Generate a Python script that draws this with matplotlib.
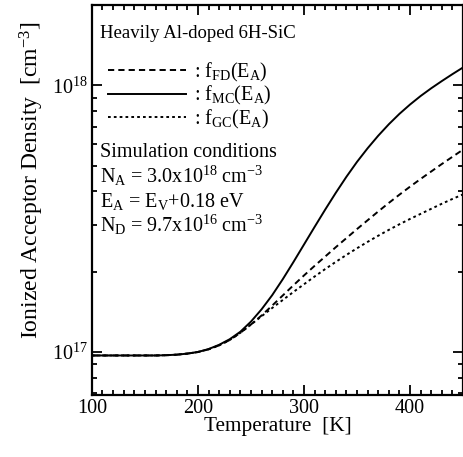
import numpy as np
import matplotlib
matplotlib.use("Agg")
import matplotlib.pyplot as plt
from matplotlib.ticker import MultipleLocator, LogLocator, NullFormatter

plt.rcParams['font.family'] = ['Liberation Serif', 'DejaVu Serif']
plt.rcParams['mathtext.fontset'] = 'custom'
plt.rcParams['mathtext.rm'] = 'Liberation Serif'
plt.rcParams['mathtext.it'] = 'Liberation Serif:italic'
plt.rcParams['mathtext.bf'] = 'Liberation Serif:bold'

# temperature grid [K]
temp = [100, 110, 120, 130, 140, 150, 160, 170, 180, 190, 200, 210, 220, 230,
        240, 250, 260, 270, 280, 290, 300, 310, 320, 330, 340, 350, 360, 370,
        380, 390, 400, 410, 420, 430, 440, 450]

# log10 of ionized acceptor density [cm^-3]
log_mc = [16.987, 16.987, 16.987, 16.987, 16.987, 16.987, 16.987, 16.988,
          16.990, 16.994, 17.000, 17.011, 17.027, 17.048, 17.076, 17.114,
          17.160, 17.213, 17.273, 17.337, 17.403, 17.469, 17.534, 17.597,
          17.657, 17.713, 17.764, 17.811, 17.854, 17.893, 17.928, 17.960,
          17.989, 18.016, 18.042, 18.067]
log_fd = [16.987, 16.987, 16.987, 16.987, 16.987, 16.987, 16.987, 16.988,
          16.990, 16.994, 17.000, 17.010, 17.025, 17.045, 17.072, 17.103,
          17.137, 17.174, 17.212, 17.250, 17.287, 17.323, 17.358, 17.393,
          17.427, 17.461, 17.494, 17.527, 17.559, 17.590, 17.620, 17.649,
          17.677, 17.705, 17.732, 17.759]
log_gc = [16.987, 16.987, 16.987, 16.987, 16.987, 16.987, 16.987, 16.988,
          16.990, 16.994, 17.000, 17.010, 17.025, 17.045, 17.072, 17.103,
          17.134, 17.165, 17.195, 17.225, 17.254, 17.283, 17.311, 17.338,
          17.364, 17.389, 17.413, 17.436, 17.458, 17.479, 17.499, 17.518,
          17.537, 17.556, 17.574, 17.591]

n_mc = 10 ** np.array(log_mc)
n_fd = 10 ** np.array(log_fd)
n_gc = 10 ** np.array(log_gc)

fs = 14.5
fig = plt.figure(figsize=(4.64, 4.57), dpi=100)
ax = fig.add_axes([0.198, 0.1357, 0.8, 0.8533])

lw = 1.4
ax.plot(temp, n_fd, color='black', lw=lw, linestyle=(0, (3.2, 2.1)),
        label=r': f$_{\mathrm{FD}}$(E$_{\mathrm{A}}$)')
ax.plot(temp, n_mc, color='black', lw=lw, linestyle='-',
        label=r': f$_{\mathrm{MC}}$(E$_{\mathrm{A}}$)')
ax.plot(temp, n_gc, color='black', lw=lw, linestyle=(0, (1.4, 1.6)),
        label=r': f$_{\mathrm{GC}}$(E$_{\mathrm{A}}$)')

ax.set_yscale('log')
ax.set_xlim(100, 450)
ax.set_ylim(6.9e16, 2.0e18)

ax.xaxis.set_major_locator(MultipleLocator(100))
ax.xaxis.set_minor_locator(MultipleLocator(10))
ax.yaxis.set_major_locator(LogLocator(base=10, numticks=10))
ax.yaxis.set_minor_locator(LogLocator(base=10, subs=np.arange(2, 10), numticks=10))
ax.yaxis.set_minor_formatter(NullFormatter())

ax.tick_params(which='both', direction='in', top=True, right=True,
               labelsize=fs, width=1.3)
ax.tick_params(which='major', length=7, pad=3)
ax.tick_params(which='minor', length=3.5)
for s in ax.spines.values():
    s.set_linewidth(1.6)

ax.set_xlabel('Temperature  [K]', fontsize=15.3, labelpad=-1)
ax.set_ylabel(r'Ionized Acceptor Density  [cm$^{\mathrm{-3}}$]', fontsize=17)
ax.yaxis.set_label_coords(-0.124, 0.551)

leg = ax.legend(loc='upper left', bbox_to_anchor=(0.016, 0.883), frameon=False,
                fontsize=fs, handlelength=3.9, handletextpad=0.4,
                labelspacing=0.02, borderaxespad=0.3, borderpad=0.2)

tkw = dict(transform=ax.transAxes, fontsize=fs, va='baseline', ha='left')
ax.text(0.022, 0.915, 'Heavily Al-doped 6H-SiC',
        **{**tkw, 'fontsize': 13.5})
ax.text(0.022, 0.610, 'Simulation conditions', **tkw)
ax.text(0.022, 0.544, r'N$_{\mathrm{A}}$ = 3.0x10$^{\mathrm{18}}$ cm$^{\mathrm{-3}}$', **tkw)
ax.text(0.022, 0.482, r'E$_{\mathrm{A}}$ = E$_{\mathrm{V}}$+0.18 eV', **tkw)
ax.text(0.022, 0.418, r'N$_{\mathrm{D}}$ = 9.7x10$^{\mathrm{16}}$ cm$^{\mathrm{-3}}$', **tkw)

fig.savefig('out.png', dpi=100)
